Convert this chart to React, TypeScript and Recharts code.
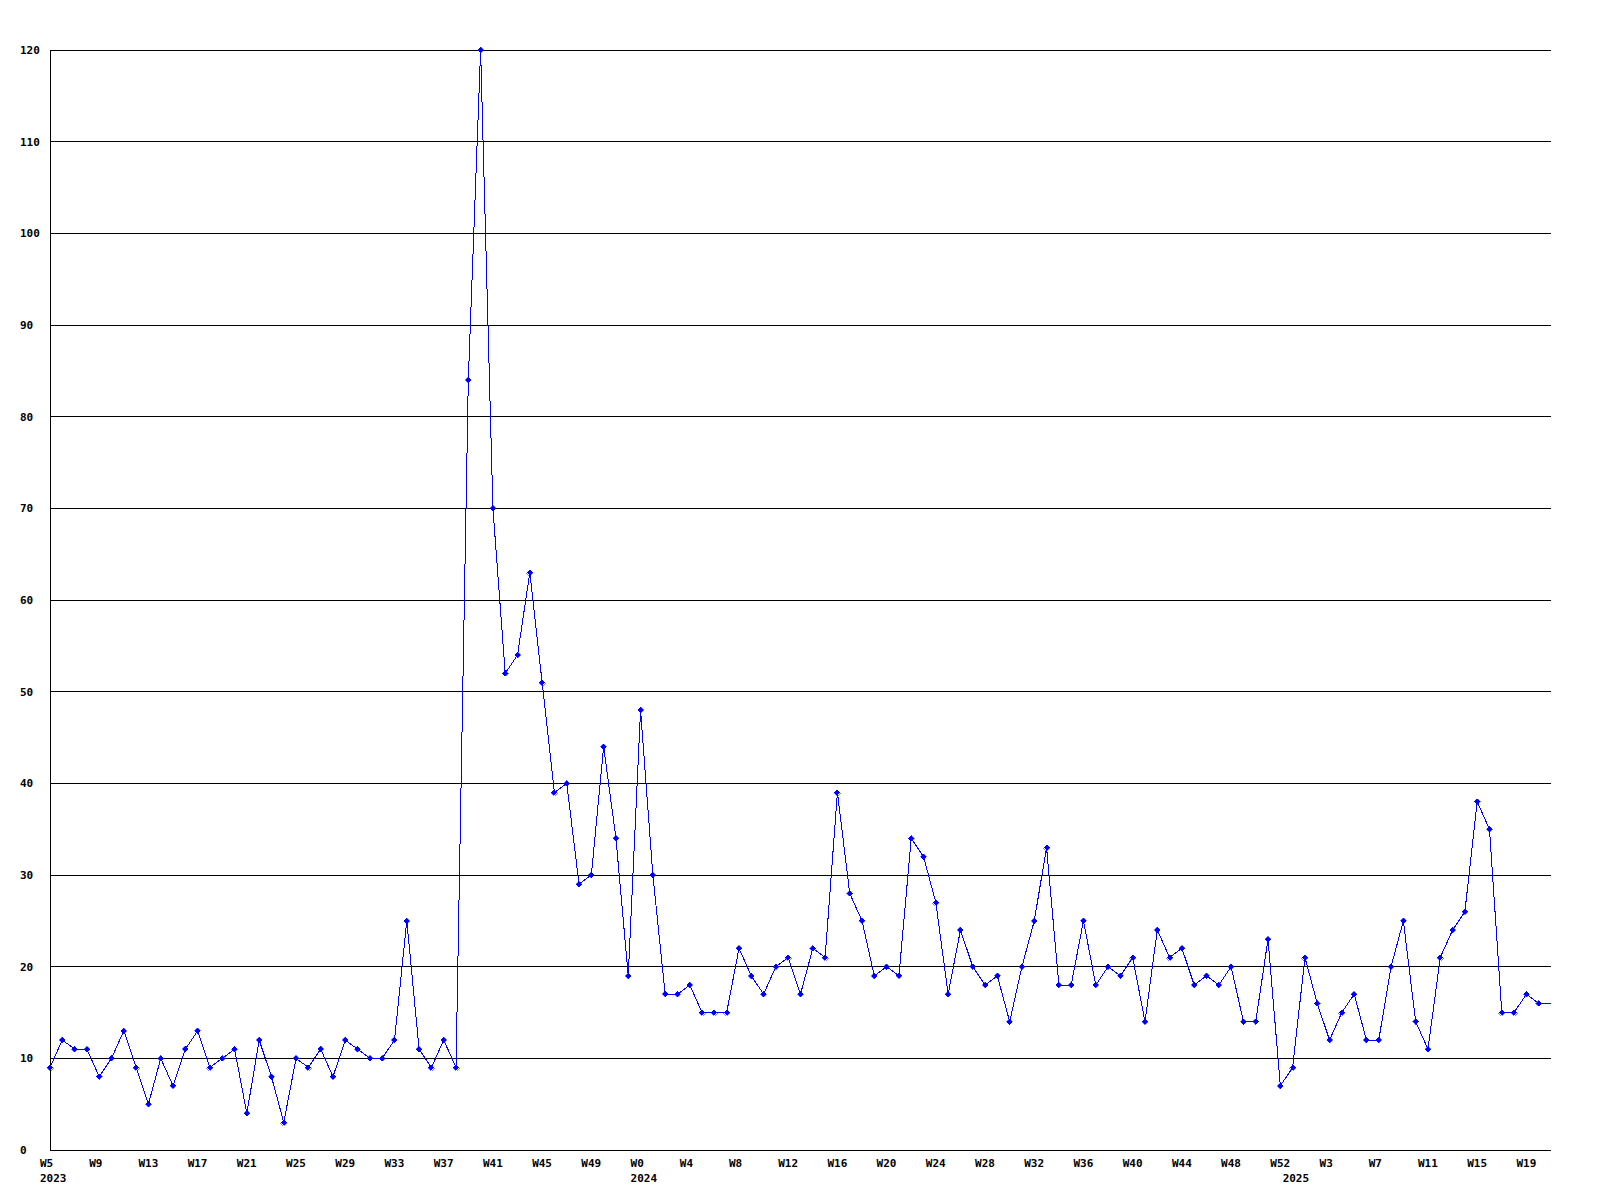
import React from "react";
import { LineChart, Line, XAxis, YAxis, CartesianGrid } from "recharts";

// ---- data ----
const years = [2023, 2024, 2025];
const firstWeeks = [5, 0, 0];
const values2023 = [
  9, 12, 11, 11, 8, 10, 13, 9, 5, 10,
  7, 11, 13, 9, 10, 11, 4, 12, 8, 3,
  10, 9, 11, 8, 12, 11, 10, 10, 12, 25,
  11, 9, 12, 9, 84, 120, 70, 52, 54, 63,
  51, 39, 40, 29, 30, 44, 34, 19,
];
const values2024 = [
  48, 30, 17, 17, 18, 15, 15, 15, 22, 19,
  17, 20, 21, 17, 22, 21, 39, 28, 25, 19,
  20, 19, 34, 32, 27, 17, 24, 20, 18, 19,
  14, 20, 25, 33, 18, 18, 25, 18, 20, 19,
  21, 14, 24, 21, 22, 18, 19, 18, 20, 14,
  14, 23, 7,
];
const values2025 = [
  9, 21, 16, 12, 15, 17, 12, 12, 20, 25,
  14, 11, 21, 24, 26, 38, 35, 15, 15, 17,
  16, 16,
];
const yTicks = [0, 10, 20, 30, 40, 50, 60, 70, 80, 90, 100, 110, 120];
const tickEvery = 4;

type Pt = { idx: number; year: number; week: number; value: number; yearStart: boolean };
const data: Pt[] = [];
[values2023, values2024, values2025].forEach((vals, yi) => {
  vals.forEach((v, i) => {
    data.push({
      idx: data.length,
      year: years[yi],
      week: firstWeeks[yi] + i,
      value: v,
      yearStart: i === 0,
    });
  });
});
const xTicks = data.filter((d) => d.idx % tickEvery === 0 || d.yearStart).map((d) => d.idx);

// ---- layout ----
const W = 1600;
const H = 1200;
const M = { top: 50, right: 49, bottom: 0, left: 20 };
const Y_AXIS_W = 30;
const X_AXIS_H = 50;
const PLOT_BOTTOM = H - M.bottom - X_AXIS_H;
const FONT = "'DejaVu Sans Mono', monospace";

const XTick = (props: any) => {
  const { x, payload } = props;
  const d = data[payload.value];
  if (!d) return <g />;
  return (
    <g>
      {d.idx % tickEvery === 0 && (
        <text x={x - 10} y={PLOT_BOTTOM + 17} textAnchor="start" fontFamily={FONT} fontWeight="bold" fontSize={11} fill="#000">
          {"W" + d.week}
        </text>
      )}
      {d.yearStart && (
        <text x={x - 10} y={PLOT_BOTTOM + 32} textAnchor="start" fontFamily={FONT} fontWeight="bold" fontSize={11} fill="#000">
          {String(d.year)}
        </text>
      )}
    </g>
  );
};

const YTick = (props: any) => {
  const { y, payload } = props;
  return (
    <text x={20} y={y + 4} textAnchor="start" fontFamily={FONT} fontWeight="bold" fontSize={11} fill="#000">
      {String(payload.value)}
    </text>
  );
};

const Marker = (props: any) => {
  const { cx, cy, index } = props;
  if (index === data.length - 1 || cx == null || cy == null) return <g key={"m" + index} />;
  const r = 3;
  return (
    <path
      key={"m" + index}
      d={`M${cx - r},${cy} L${cx},${cy - r} L${cx + r},${cy} L${cx},${cy + r} Z`}
      fill="#0000ff"
      stroke="#0000ff"
      strokeWidth={0.5}
    />
  );
};

export default function App() {
  return (
    <div
      style={{
        position: "absolute",
        left: 0,
        top: 0,
        width: W,
        height: H,
        background: "#fff",
        shapeRendering: "crispEdges",
      }}
    >
      <LineChart width={W} height={H} data={data} margin={M}>
        <CartesianGrid vertical={false} stroke="#000" strokeWidth={1} />
        <XAxis
          dataKey="idx"
          type="category"
          ticks={xTicks}
          interval={0}
          tick={<XTick />}
          tickLine={false}
          axisLine={{ stroke: "#000", strokeWidth: 1 }}
          height={X_AXIS_H}
          padding={{ left: 0, right: 0 }}
        />
        <YAxis
          type="number"
          domain={[0, 120]}
          ticks={yTicks}
          interval={0}
          tick={<YTick />}
          tickLine={false}
          axisLine={{ stroke: "#000", strokeWidth: 1 }}
          width={Y_AXIS_W}
        />
        <Line
          type="linear"
          dataKey="value"
          stroke="#0000ff"
          strokeWidth={1}
          dot={<Marker />}
          activeDot={false}
          isAnimationActive={false}
        />
      </LineChart>
    </div>
  );
}
